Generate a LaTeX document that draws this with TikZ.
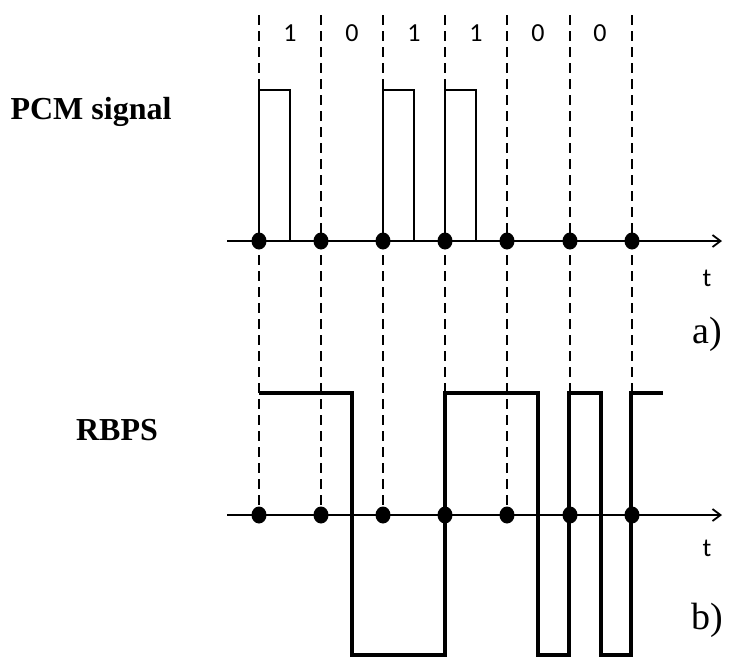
\documentclass[tikz,border=0pt]{standalone}
\usepackage{fontspec}
\setmainfont{Liberation Serif}
\newfontfamily\calfont{Carlito}
\usetikzlibrary{arrows.meta,shapes.geometric}
\begin{document}
\begin{tikzpicture}[x=1pt,y=-1pt,
  thinline/.style={line width=1.8pt},
  dashline/.style={line width=1.8pt, dash pattern=on 10pt off 6pt},
  wave/.style={line width=3.8pt, line join=miter},
  dot/.style={ellipse, fill=black, minimum width=15pt, minimum height=17pt, inner sep=0pt},
  axis/.style={line width=1.8pt, -{Straight Barb[length=8pt,width=12pt]}},
  bit/.style={font=\calfont\fontsize{26}{28}\selectfont, inner sep=0pt},
  title/.style={font=\bfseries\fontsize{32}{34}\selectfont, inner sep=0pt},
  part/.style={font=\fontsize{38}{40}\selectfont, inner sep=0pt}
]
\useasboundingbox (0,0) rectangle (729,657);

% axes
\coordinate (axAstart) at (227,241);
\coordinate (axAend) at (722,241);
\coordinate (axBstart) at (227,515);
\coordinate (axBend) at (722,515);
\draw[axis] (axAstart) -- (axAend);
\draw[axis] (axBstart) -- (axBend);

% dashed lines and dots
\foreach \x [count=\i] in {259,321,383,445,507,570,632} {
  \coordinate (top\i) at (\x,15);
  \node[dot] (a\i) at (\x,241) {};
  \node[dot] (b\i) at (\x,515) {};
  \draw[dashline] (top\i) -- (b\i.center);
}

% PCM pulses
\coordinate (p1) at (290,241);
\coordinate (p3) at (414,241);
\coordinate (p4) at (476,241);
\draw[thinline] (a1.center) -- (259,90) -- (290,90) -- (p1);
\draw[thinline] (a3.center) -- (383,90) -- (414,90) -- (p3);
\draw[thinline] (a4.center) -- (445,90) -- (476,90) -- (p4);

% RBPS waveform
\coordinate (w0) at (259,393);
\coordinate (w1) at (663,393);
\draw[wave] (w0) -- (352,393) -- (352,655) -- (445,655) -- (445,393)
  -- (538,393) -- (538,655) -- (569,655) -- (569,393) -- (601,393)
  -- (601,655) -- (631,655) -- (631,393) -- (w1);

% bit labels
\foreach \x/\b [count=\i] in {290/1,352/0,414/1,476/1,538/0,600/0} {
  \node[bit] (bit\i) at (\x,33) {\b};
}

% labels
\node[title] (pcm) at (91,112) {PCM signal};
\node[title] (rbps) at (117,430) {RBPS};
\node[bit] (tA) at (707,278) {t};
\node[bit] (tB) at (707,548) {t};
\node[part] (la) at (707,334) {a)};
\node[part] (lb) at (707,620) {b)};
\end{tikzpicture}
\end{document}
